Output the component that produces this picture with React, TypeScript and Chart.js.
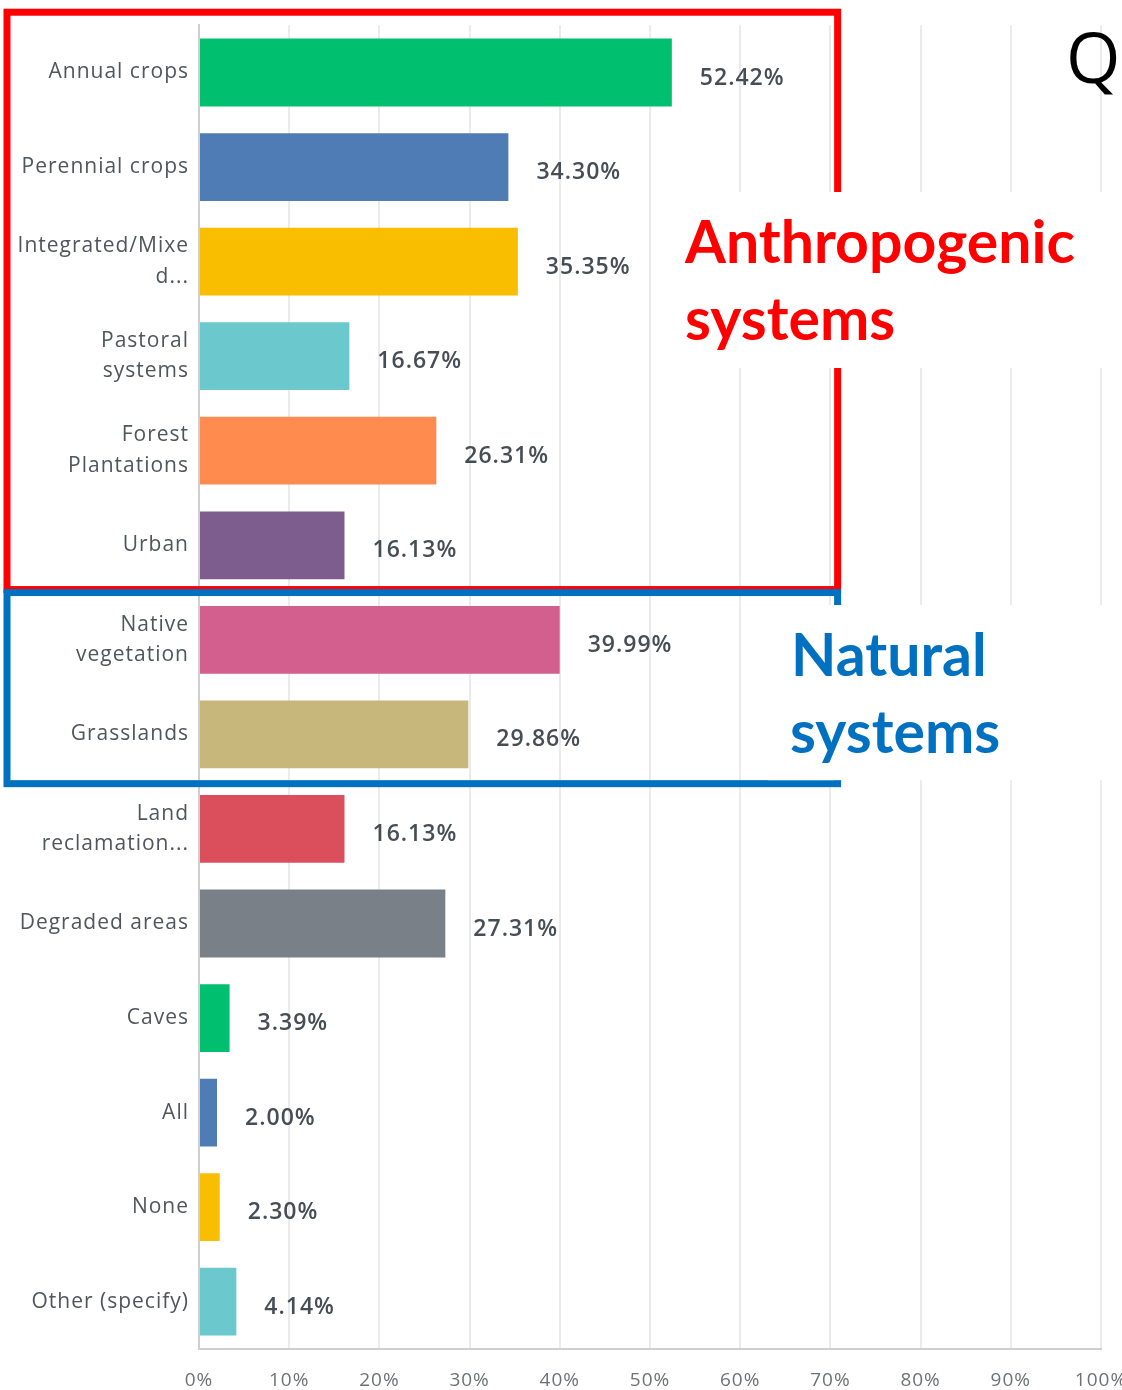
import { useEffect, useRef } from "react";
import { Chart, registerables } from "chart.js";

Chart.register(...registerables);

// Survey answers, shown as share of respondents
const categories: (string | string[])[] = [
  "Annual crops",
  "Perennial crops",
  ["Integrated/Mixe", "d..."],
  ["Pastoral", "systems"],
  ["Forest", "Plantations"],
  "Urban",
  ["Native", "vegetation"],
  "Grasslands",
  ["Land", "reclamation..."],
  "Degraded areas",
  "Caves",
  "All",
  "None",
  "Other (specify)",
];

const values = [52.42, 34.3, 35.35, 16.67, 26.31, 16.13, 39.99, 29.86, 16.13, 27.31, 3.39, 2.0, 2.3, 4.14];

const barColors = [
  "#00BF6F", "#507CB6", "#F9BE00", "#6BC8CD", "#FF8B4F", "#7D5C8E", "#D25F8D",
  "#C8B77B", "#DB4E5C", "#7A8087", "#00BF6F", "#507CB6", "#F9BE00", "#6BC8CD",
];

const xTickStep = 10;
const xMax = 100;

// Category groups framed on the chart
const groupNames = [
  ["Anthropogenic", "systems"],
  ["Natural", "systems"],
];
const groupColors = ["#FF0000", "#0070C0"];
const groupFirst = [0, 6];
const groupLast = [5, 7];

const cornerLetter = "Q";

const W = 1122;
const H = 1390;

const fitFont = (ctx: CanvasRenderingContext2D, text: string, width: number, weight: string, family: string) => {
  ctx.font = `${weight} 100px ${family}`;
  const w = ctx.measureText(text).width;
  return (100 * width) / w;
};

const overlayPlugin = {
  id: "overlay",
  beforeDraw(chart: any) {
    // slightly tracked axis text
    (chart.ctx as any).letterSpacing = "1px";
  },
  afterDatasetsDraw(chart: any) {
    const ctx: CanvasRenderingContext2D = chart.ctx;
    const meta = chart.getDatasetMeta(0);
    ctx.save();
    ctx.font = "600 23px 'Open Sans'";
    (ctx as any).letterSpacing = "1px";
    ctx.fillStyle = "#474d54";
    ctx.textAlign = "left";
    ctx.textBaseline = "alphabetic";
    meta.data.forEach((bar: any, i: number) => {
      ctx.fillText(`${values[i].toFixed(2)}%`, bar.x + 28, bar.y + 12);
    });
    ctx.restore();
  },
  afterDraw(chart: any) {
    const ctx: CanvasRenderingContext2D = chart.ctx;
    const ys = chart.scales.y;
    const xs = chart.scales.x;
    const area = chart.chartArea;
    const half = (ys.getPixelForValue(1) - ys.getPixelForValue(0)) / 2;
    const left = 7;
    const right = xs.getPixelForValue(70.8);

    ctx.save();
    (ctx as any).letterSpacing = "0px";
    ctx.lineWidth = 7;
    // group frames
    const tops = [area.top - 13, ys.getPixelForValue(groupFirst[1]) - half];
    const bottoms = [ys.getPixelForValue(groupLast[0]) + half - 3, ys.getPixelForValue(groupLast[1]) + half + 2];
    for (let g = 0; g < 2; g++) {
      ctx.strokeStyle = groupColors[g];
      ctx.strokeRect(left, tops[g], right - left, bottoms[g] - tops[g]);
    }

    // white backing behind the group captions
    ctx.fillStyle = "#ffffff";
    ctx.fillRect(663, 192, W - 663, 176);
    ctx.fillRect(768, 605, W - 768, bottoms[1] - 3.5 - 605);

    // group captions
    const fam = "Lato, 'Open Sans', sans-serif";
    const size = fitFont(ctx, groupNames[0][0], 390, "bold", fam);
    ctx.font = `bold ${size}px ${fam}`;
    ctx.textAlign = "left";
    ctx.textBaseline = "alphabetic";
    ctx.fillStyle = groupColors[0];
    ctx.fillText(groupNames[0][0], 685, 263);
    ctx.fillText(groupNames[0][1], 685, 340);
    ctx.fillStyle = groupColors[1];
    ctx.fillText(groupNames[1][0], 791, 676);
    ctx.fillText(groupNames[1][1], 790, 753);

    ctx.font = "400 70px 'Open Sans', sans-serif";
    ctx.fillStyle = "#000000";
    ctx.fillText(cornerLetter, 1066, 83);
    ctx.restore();
  },
};

export default function App() {
  const ref = useRef<HTMLCanvasElement | null>(null);

  useEffect(() => {
    document.body.style.margin = "0";
    if (!ref.current) return;
    const chart = new Chart(ref.current, {
      type: "bar",
      data: {
        labels: categories,
        datasets: [
          {
            data: values,
            backgroundColor: barColors,
            borderWidth: 0,
            barPercentage: 0.717,
            categoryPercentage: 1,
          },
        ],
      },
      options: {
        indexAxis: "y",
        responsive: false,
        animation: false,
        devicePixelRatio: 1,
        layout: { padding: { top: 22, right: 21, left: 0, bottom: 0 } },
        plugins: {
          legend: { display: false },
          tooltip: { enabled: false },
        },
        scales: {
          x: {
            type: "linear",
            position: "bottom",
            min: 0,
            max: xMax,
            ticks: {
              stepSize: xTickStep,
              callback: (v: any) => `${v}%`,
              font: { family: "'Open Sans'", size: 19 },
              color: "#6e7276",
              padding: 20,
              maxRotation: 0,
            },
            grid: { color: "#ebebeb", lineWidth: 2, drawTicks: false },
            border: { color: "#cfcfcf", width: 2 },
            afterFit: (s: any) => {
              s.height = 41;
              s.paddingLeft = 0;
              s.paddingRight = 0;
            },
          },
          y: {
            type: "category",
            grid: { display: false, drawTicks: false },
            border: { color: "#cfcfcf", width: 2 },
            ticks: {
              font: { family: "'Open Sans'", size: 21, lineHeight: 1.45 },
              color: "#50565c",
              padding: 10,
            },
            afterFit: (s: any) => {
              s.width = 199;
            },
          },
        },
      },
      plugins: [overlayPlugin],
    });
    return () => chart.destroy();
  }, []);

  return (
    <div style={{ position: "relative", width: W, height: H, background: "#ffffff" }}>
      <canvas ref={ref} width={W} height={H} style={{ display: "block" }} />
    </div>
  );
}
